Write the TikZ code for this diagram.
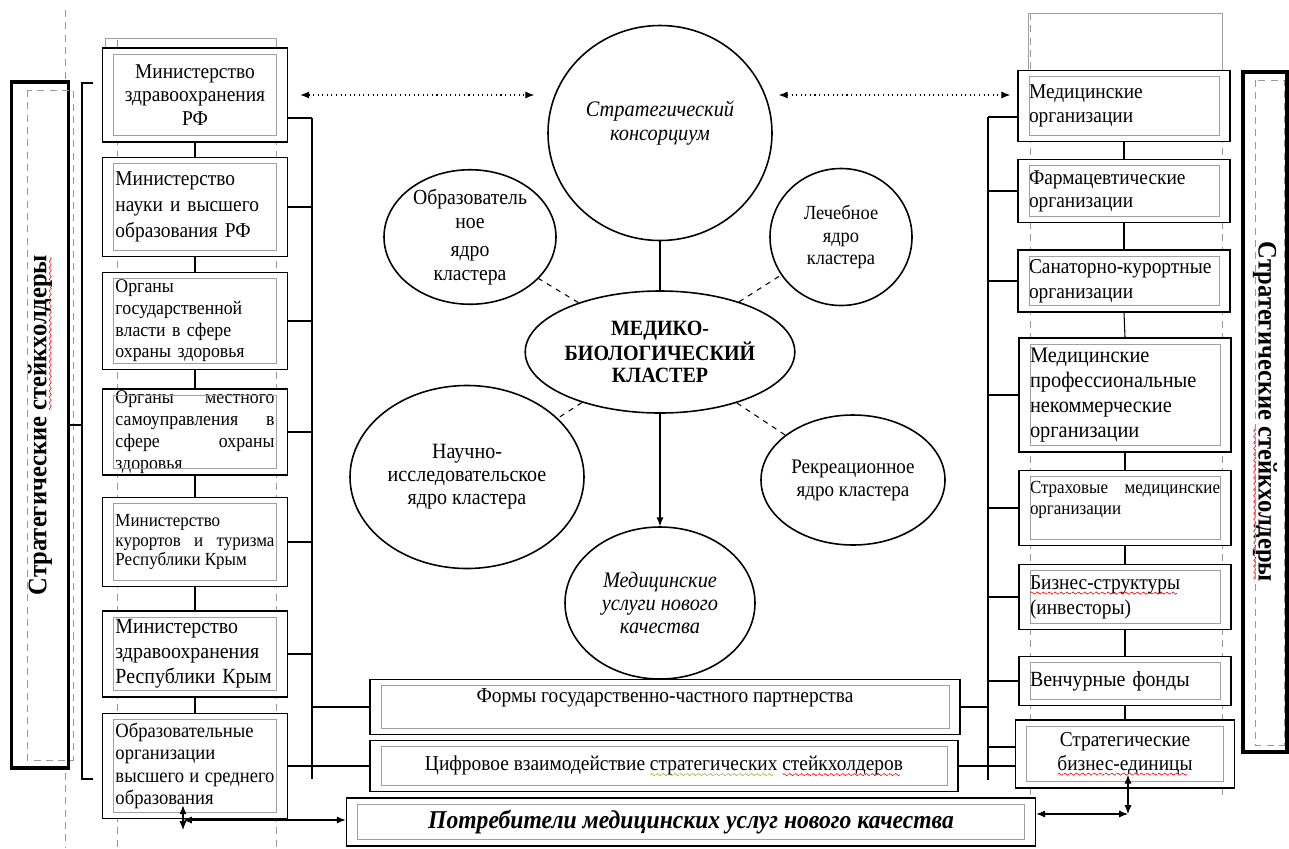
\documentclass[tikz,border=0pt]{standalone}
\usepackage{fontspec}
\setmainfont{Liberation Serif}[FakeStretch=0.92]
\usetikzlibrary{calc,shapes.geometric,arrows.meta}

\newcommand\setfs[2]{\fontsize{#1}{#2}\selectfont}
\newsavebox\markbox
\newcommand\spellmark[2]{\sbox\markbox{#2}\rlap{\raisebox{-3pt}{\hbox to \wd\markbox{\leaders\hbox{\tikz\draw[#1, line width=0.35pt] (0pt,0pt) sin (0.75pt,0.6pt) cos (1.5pt,0pt) sin (2.25pt,-0.6pt) cos (3pt,0pt);}\hfil}}}\usebox\markbox}

\begin{document}
\begin{tikzpicture}[x=0.2mm,y=-0.2mm,
	>={Latex[length=5pt,width=4pt]},
	orgbox/.style={draw, fill=white, line width=0.9pt, inner sep=0pt},
	inframe/.style={draw=gray!75, line width=0.35pt},
	guide/.style={draw=gray!80, dash pattern=on 4pt off 3pt, line width=0.35pt},
	sidebox/.style={draw, fill=white, line width=2.2pt, inner sep=0pt, font=\setfs{15.2}{17}\bfseries},
	core/.style={ellipse, draw, fill=white, line width=0.9pt, inner sep=0pt, align=center},
	link/.style={line width=0.6pt},
	]

	% ---- parameters

	\def\lwidth{37mm}
	\def\ltext{31.8mm}
	\def\rwidth{42.4mm}
	\def\rtext{38mm}

	\useasboundingbox (0,0) rectangle (1289,848);

	% ---- guide lines of the text frames

	\draw[guide] (65,10) -- (65,848);
	\draw[guide] (117,40) -- (117,848);
	\draw[guide] (276,40) -- (276,848);
	\draw[inframe] (105,48) |- (276,38) -- (276,48);
	\draw[guide] (1030,13) -- (1030,800);
	\draw[guide] (1222,13) -- (1222,800);
	\draw[inframe] (1028,72) |- (1222,13) -- (1222,72);

	% ---- side boxes (rotated: south is the inner side)

	\node[sidebox, rotate=90, minimum width=137.2mm, minimum height=11.4mm] (lside) at (40,425) {Стратегические \spellmark{red}{стейкхолдеры}};
	\node[sidebox, rotate=-90, minimum width=136mm, minimum height=8.8mm] (rside) at (1265,412) {Стратегические \spellmark{red}{стейкхолдеры}};

	\draw[guide] (27,90) rectangle (73,760);
	\draw[guide] (1255,80) rectangle (1284,745);

	% ---- bracket

	\coordinate (brk) at (82,83);
	\draw[link] (93,83) -- (brk) -- (82,779) -- (93,779);
	\draw[link] (lside.south) -- (lside.south -| brk);

	% ---- left column

	\node[orgbox, minimum width=\lwidth, minimum height=18.8mm, align=center, font=\setfs{12}{13.6}] (l1) at (195,95)
		{Министерство\\здравоохранения\\РФ};
	\node[orgbox, minimum width=\lwidth, minimum height=19.8mm, text width=\ltext, align=left, font=\setfs{12}{14.7}] (l2) at (195,207)
		{Министерство\\науки и высшего\\образования РФ};
	\node[orgbox, minimum width=\lwidth, minimum height=19.4mm, text width=\ltext, align=left, font=\setfs{11}{12.3}] (l3) at (195,321)
		{Органы\\государственной\\власти в сфере\\охраны здоровья};
	\node[orgbox, minimum width=\lwidth, minimum height=17.2mm, text width=\ltext, align=justify, font=\setfs{11}{12.5}] (l4) at (195,432)
		{Органы местного\linebreak самоуправления в\linebreak сфере охраны\linebreak здоровья};
	\node[orgbox, minimum width=\lwidth, minimum height=17.8mm, text width=\ltext, align=justify, font=\setfs{10.5}{11.2}] (l5) at (195,542)
		{Министерство\\курортов и туризма\linebreak Республики Крым};
	\node[orgbox, minimum width=\lwidth, minimum height=17.2mm, text width=\ltext, align=left, font=\setfs{12.3}{14.2}] (l6) at (195,654)
		{Министерство\\здравоохранения\\Республики Крым};
	\node[orgbox, minimum width=\lwidth, minimum height=21mm, text width=\ltext, align=justify, font=\setfs{11.5}{12.7}] (l7) at (195,766)
		{Образовательные\\организации\\высшего и среднего\linebreak образования};

	% ---- right column

	\node[orgbox, minimum width=\rwidth, minimum height=14.2mm, text width=\rtext, align=left, font=\setfs{12}{13.6}] (r1) at (1124,106)
		{Медицинские\\организации};
	\node[orgbox, minimum width=\rwidth, minimum height=12.6mm, text width=\rtext, align=left, font=\setfs{12}{13.2}] (r2) at (1124,191)
		{Фармацевтические\\организации};
	\node[orgbox, minimum width=\rwidth, minimum height=12.4mm, text width=\rtext, align=left, font=\setfs{12}{14}] (r3) at (1124,281)
		{Санаторно-курортные\\организации};
	\node[orgbox, minimum width=\rwidth, minimum height=22.8mm, text width=\rtext, align=left, font=\setfs{12.6}{14.2}] (r4) at (1125,395)
		{Медицинские\\профессиональные\\некоммерческие\\организации};
	\node[orgbox, minimum width=\rwidth, minimum height=15mm, text width=\rtext, align=justify, font=\setfs{10.5}{11.5}] (r5) at (1125,508)
		{Страховые медицинские\linebreak организации\\\mbox{}};
	\node[orgbox, minimum width=\rwidth, minimum height=13mm, text width=\rtext, align=left, font=\setfs{12}{14.2}] (r6) at (1125,597)
		{\spellmark{red}{Бизнес-структуры}\\(инвесторы)};
	\node[orgbox, minimum width=\rwidth, minimum height=9.8mm, text width=\rtext, align=left, font=\setfs{12.3}{14}] (r7) at (1125,681)
		{Венчурные фонды};
	\node[orgbox, minimum width=43.8mm, minimum height=13.6mm, align=center, font=\setfs{12}{13.5}] (r8) at (1125,754)
		{Стратегические\\\spellmark{red}{бизнес-единицы}};

	% ---- cluster

	\node[core, minimum width=44.8mm, minimum height=43mm, font=\setfs{12.6}{13.6}\itshape] (kons) at (660,133)
		{Стратегический\\консорциум\\[1pt]\mbox{}};
	\node[core, minimum width=34.4mm, minimum height=25mm, font=\setfs{12.2}{13.6}] (obr) at (470,237)
		{Образователь\\ное\\[2pt]ядро\\кластера};
	\node[core, minimum width=28.4mm, minimum height=27.4mm, font=\setfs{11.4}{12.8}] (lech) at (841,237)
		{Лечебное\\ядро\\кластера};
	\node[core, minimum width=48.6mm, minimum height=24.4mm, font=\setfs{12.4}{12.8}\bfseries] (mbk) at (660,352)
		{МЕДИКО-\\БИОЛОГИЧЕСКИЙ\\КЛАСТЕР};
	\node[core, minimum width=46.8mm, minimum height=36.6mm, font=\setfs{12.4}{13}] (nauch) at (467,477)
		{Научно-\\исследовательское\\ядро кластера};
	\node[core, minimum width=36.8mm, minimum height=26mm, font=\setfs{11.8}{13}] (rekr) at (853,480)
		{Рекреационное\\ядро кластера};
	\node[core, minimum width=38mm, minimum height=30.4mm, font=\setfs{12.6}{13.2}\itshape] (usl) at (660,603)
		{Медицинские\\услуги нового\\качества};

	\draw[link] (kons.south) -- (kons.south |- mbk.north);
	\draw[link, ->] (mbk.south) -- (mbk.south |- usl.north);
	\foreach \n in {obr,lech,nauch,rekr}
		\draw[link, dashed] (mbk) -- (\n);

	% ---- bottom boxes

	\node[orgbox, minimum width=118mm, minimum height=11mm, align=center, font=\setfs{12}{13}] (form) at (665,707)
		{Формы государственно-частного партнерства\\\mbox{}};
	\node[orgbox, minimum width=117.6mm, minimum height=10.2mm, font=\setfs{12}{13}] (cif) at (664,766)
		{Цифровое взаимодействие \spellmark{olive!70}{стратегических} \spellmark{red}{стейкхолдеров}};
	\node[orgbox, minimum width=137.8mm, minimum height=9.6mm, font=\setfs{14.6}{16}\bfseries\itshape] (potr) at (691,822)
		{Потребители медицинских услуг нового качества};

	% ---- inner frames

	\foreach \n in {l1,l2,l3,l4,l5,l6,l7,r1,r2,r3,r4,r5,r6,r7,r8,form,cif,potr}
		\draw[inframe] ($(\n.north west)+(12,7)$) rectangle ($(\n.south east)+(-12,-7)$);

	% ---- column links

	\foreach \i/\j in {1/2,2/3,3/4,4/5,5/6,6/7}
		\draw[link] (l\i.south) -- (l\j.north);
	\foreach \i/\j in {1/2,2/3,3/4,4/5,5/6,6/7,7/8}
		\draw[link] (r\i.south) -- (r\j.north);

	% ---- left bus

	\coordinate (lbus) at (312,118);
	\coordinate (lbusend) at (312,779);
	\draw[link] (lbus) -- (lbusend);
	\draw[link] (l1.east |- lbus) -- (lbus);
	\foreach \i in {2,...,6}
		\draw[link] (l\i.east) -- (l\i.east -| lbus);
	\draw[link] (l7.east) -- (cif.west);
	\draw[link] (form.west) -- (form.west -| lbus);

	% ---- right bus

	\coordinate (rbus) at (988,117);
	\coordinate (rbusend) at (988,780);
	\draw[link] (rbus) -- (rbusend);
	\draw[link] (r1.west |- rbus) -- (rbus);
	\foreach \i in {2,...,7}
		\draw[link] (r\i.west) -- (r\i.west -| rbus);
	\draw[link] ($(r8.west)+(0,-7)$) -- ($(r8.west -| rbus)+(0,-7)$);
	\draw[link] (cif.east) -- (cif.east -| r8.west);
	\draw[link] (form.east) -- (form.east -| rbus);

	% ---- dotted links to the consortium

	\draw[link, dotted, <->, shorten <=2.4mm, shorten >=2.6mm] (l1.east) -- (l1.east -| kons.west);
	\draw[link, dotted, <->, shorten <=1.2mm, shorten >=1.4mm] (kons.east |- l1.east) -- (r1.west |- l1.east);

	% ---- consumers

	\coordinate (lcorn) at (183,820);
	\coordinate (rcorn) at (1128,814);
	\draw[link, <->] ($(lcorn |- l7.south)+(0,-14)$) -- ($(lcorn)+(0,10)$);
	\draw[link, <->] (lcorn) -- (potr.west |- lcorn);
	\draw[link, <->] (potr.east |- rcorn) -- (rcorn);
	\draw[link, <->] (rcorn) -- ($(rcorn |- r8.south)+(0,-14)$);

\end{tikzpicture}
\end{document}
